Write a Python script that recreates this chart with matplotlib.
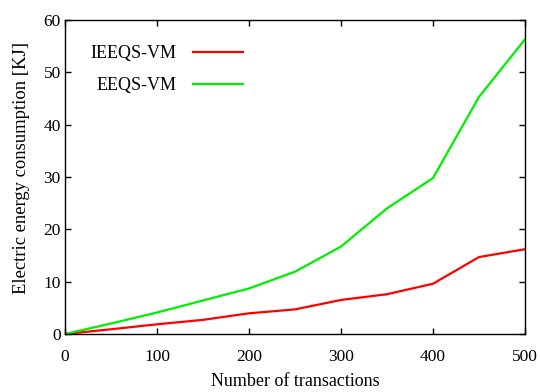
import numpy as np
import matplotlib.pyplot as plt

plt.rcParams['font.family'] = ['Liberation Serif', 'DejaVu Serif']
plt.rcParams['font.size'] = 13

transactions = [0, 50, 100, 150, 200, 250, 300, 350, 400, 450, 500]
ieeqs_vm = [0, 0.9, 1.85, 2.7, 3.95, 4.7, 6.5, 7.6, 9.6, 14.7, 16.2]
eeqs_vm = [0, 2.0, 4.1, 6.4, 8.7, 11.9, 16.7, 24.0, 29.8, 45.3, 56.3]

fig = plt.figure(figsize=(5.4, 3.92), dpi=100)
ax = fig.add_axes([0.1204, 0.148, 0.8518, 0.801])

ax.plot(transactions, ieeqs_vm, color="#ff0000", lw=1.6, label="IEEQS-VM")
ax.plot(transactions, eeqs_vm, color="#00ee00", lw=1.6, label="EEQS-VM")

ax.set_xlim(0, 500)
ax.set_ylim(0, 60)
ax.set_xticks(np.arange(0, 501, 100))
ax.set_yticks(np.arange(0, 61, 10))
ax.tick_params(direction="in", length=4, width=1, top=True, right=True,
               labelsize=12.5)
ax.tick_params(axis="x", pad=10.5)
ax.tick_params(axis="y", pad=3)
for s in ax.spines.values():
    s.set_linewidth(1)

ax.set_xlabel("Number of transactions")
ax.set_ylabel("Electric energy consumption [KJ]", fontsize=13.4)
ax.xaxis.set_label_coords(0.5, -0.124)
ax.yaxis.set_label_coords(-0.0755, 0.529)

ax.legend(loc="upper left", bbox_to_anchor=(0.020, 0.971), frameon=False,
          markerfirst=False, handlelength=2.82, handletextpad=0.89,
          labelspacing=0.82, borderpad=0.4)

fig.savefig("out.png", dpi=100)
